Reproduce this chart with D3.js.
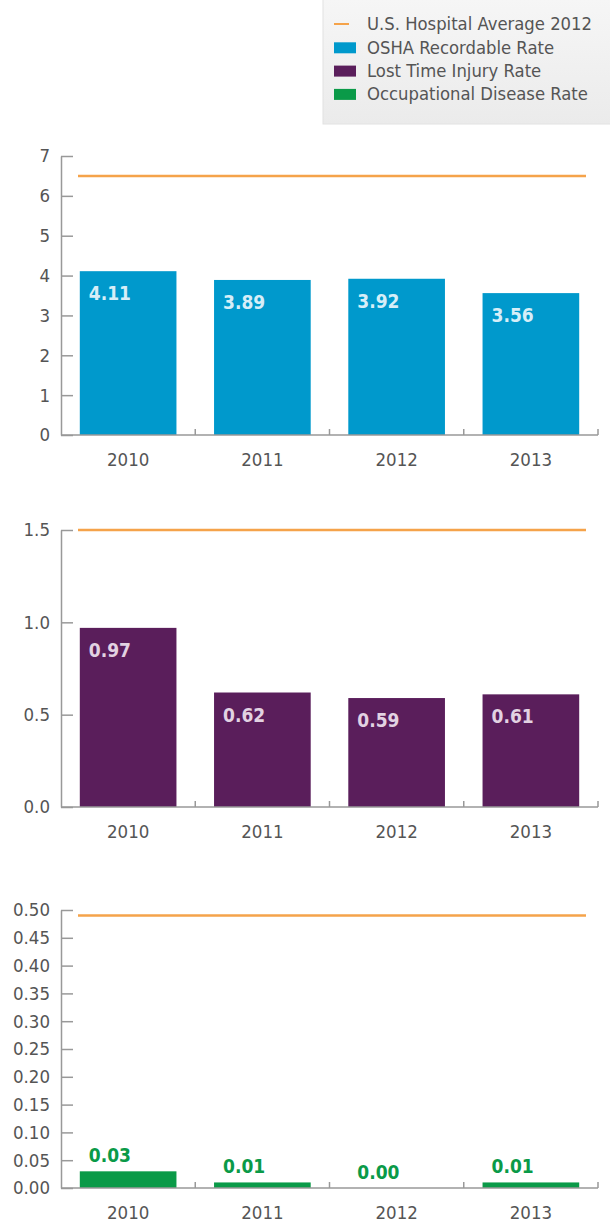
<!DOCTYPE html>
<html>
<head>
<meta charset="utf-8">
<script src="https://cdn.jsdelivr.net/npm/d3@7"></script>
<style>
  body { margin: 0; background: #fff; }
  svg text { font-family: "DejaVu Sans Condensed", "DejaVu Sans", sans-serif; font-stretch: condensed; }
  .axis text { fill: #555; font-size: 18.5px; }
  .axis line, .axis path { stroke: #999; stroke-width: 1.5; }
</style>
</head>
<body>
<svg id="chart" width="610" height="1228"></svg>
<script>
const years = ['2010', '2011', '2012', '2013'];
const oshaRate = [4.11, 3.89, 3.92, 3.56];
const lostTimeRate = [0.97, 0.62, 0.59, 0.61];
const diseaseRate = [0.03, 0.01, 0.00, 0.01];
const hospitalAvg = [6.5, 1.5, 0.49];

const ticksOsha = [0, 1, 2, 3, 4, 5, 6, 7];
const ticksLost = [0, 0.5, 1.0, 1.5];
const ticksDisease = [0, 0.05, 0.1, 0.15, 0.2, 0.25, 0.3, 0.35, 0.4, 0.45, 0.5];

const legendItems = [
  { label: 'U.S. Hospital Average 2012', color: '#f5a34a', type: 'line' },
  { label: 'OSHA Recordable Rate', color: '#0099cc', type: 'box' },
  { label: 'Lost Time Injury Rate', color: '#5a1e5b', type: 'box' },
  { label: 'Occupational Disease Rate', color: '#0a9a48', type: 'box' }
];

const svg = d3.select('#chart');
const left = 61, right = 598;

// legend
const defs = svg.append('defs');
const grad = defs.append('linearGradient').attr('id', 'lg').attr('x1', 0).attr('y1', 0).attr('x2', 0).attr('y2', 1);
grad.append('stop').attr('offset', '0%').attr('stop-color', '#f6f6f6');
grad.append('stop').attr('offset', '100%').attr('stop-color', '#ebebeb');

const legend = svg.append('g');
legend.append('rect')
  .attr('x', 323).attr('y', -1).attr('width', 290).attr('height', 125)
  .attr('fill', 'url(#lg)').attr('stroke', '#e2e2e2');

const li = legend.selectAll('.item').data(legendItems).enter()
  .append('g')
  .attr('transform', (d, i) => `translate(334, ${24 + i * 23.3})`);

li.filter(d => d.type === 'line').append('line')
  .attr('x1', 0).attr('x2', 15).attr('y1', 0).attr('y2', 0)
  .attr('stroke', d => d.color).attr('stroke-width', 2);
li.filter(d => d.type === 'box').append('rect')
  .attr('x', 0).attr('y', -5).attr('width', 22).attr('height', 11)
  .attr('fill', d => d.color);
li.append('text')
  .attr('x', 33).attr('dy', '0.35em')
  .attr('fill', '#555').style('font-size', '18.3px')
  .text(d => d.label);

function drawChart(cfg) {
  const g = svg.append('g');
  const y = d3.scaleLinear().domain(cfg.domain).range([cfg.bottom, cfg.top]);
  const x = d3.scaleBand().domain(years).range([left, right])
    .paddingInner(0.28).paddingOuter(0.14);

  // bars
  g.selectAll('.bar').data(cfg.values).enter()
    .append('rect')
    .attr('x', (d, i) => x(years[i]))
    .attr('y', d => y(d))
    .attr('width', x.bandwidth())
    .attr('height', d => cfg.bottom - y(d))
    .attr('fill', cfg.color);

  // value labels
  g.selectAll('.val').data(cfg.values).enter()
    .append('text')
    .attr('x', (d, i) => x(years[i]) + 9)
    .attr('y', d => cfg.inside ? y(d) + 29 : y(d) - 9)
    .attr('fill', cfg.labelColor)
    .style('font-size', '19px')
    .style('font-weight', 'bold')
    .text(d => d.toFixed(2));

  // hospital average line
  g.append('line')
    .attr('x1', 78).attr('x2', 586)
    .attr('y1', y(cfg.avg)).attr('y2', y(cfg.avg))
    .attr('stroke', '#f5a34a').attr('stroke-width', 2.5);

  // y axis
  g.append('g')
    .attr('class', 'axis')
    .attr('transform', `translate(${left},0)`)
    .call(d3.axisLeft(y).tickValues(cfg.ticks).tickFormat(d3.format(cfg.fmt))
      .tickSizeInner(-12).tickSizeOuter(0).tickPadding(11));

  // x axis
  const xa = g.append('g')
    .attr('class', 'axis')
    .attr('transform', `translate(0,${cfg.bottom})`)
    .call(d3.axisBottom(x).tickSize(0).tickPadding(18));
  xa.select('.domain').attr('d', `M${left},0H${right}`);
  xa.selectAll('.sep').data(years).enter()
    .append('line')
    .attr('x1', d => x(d) + x.bandwidth() + x.step() * 0.14)
    .attr('x2', d => x(d) + x.bandwidth() + x.step() * 0.14)
    .attr('y1', 0).attr('y2', -6);
}

drawChart({ values: oshaRate, avg: hospitalAvg[0], domain: [0, 7], top: 156, bottom: 435,
  ticks: ticksOsha, fmt: 'd', color: '#0099cc', labelColor: '#d6eef8', inside: true });
drawChart({ values: lostTimeRate, avg: hospitalAvg[1], domain: [0, 1.5], top: 530, bottom: 807,
  ticks: ticksLost, fmt: '.1f', color: '#5a1e5b', labelColor: '#e2d2e2', inside: true });
drawChart({ values: diseaseRate, avg: hospitalAvg[2], domain: [0, 0.5], top: 910, bottom: 1188,
  ticks: ticksDisease, fmt: '.2f', color: '#0a9a48', labelColor: '#0a9a48', inside: false });
</script>
</body>
</html>
